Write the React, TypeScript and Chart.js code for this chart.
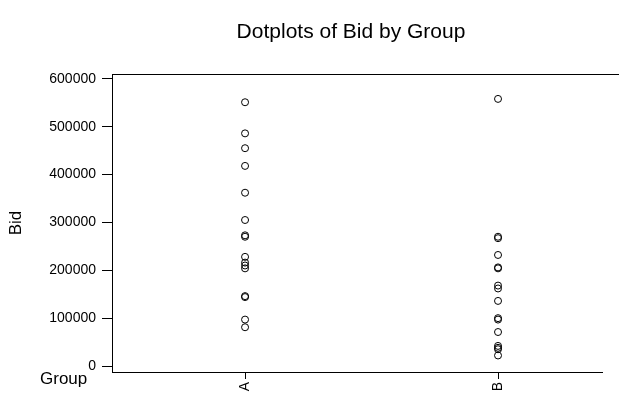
import { useEffect, useRef } from "react";
import { Chart, registerables } from "chart.js";

Chart.register(...registerables);

const categories = ["A", "B"];
const groupA = [551000, 486000, 455000, 418000, 362000, 305000, 273000, 270000, 228000, 216000, 210000, 204000, 146000, 144000, 97000, 81000];
const groupB = [558000, 270000, 267000, 232000, 206000, 204000, 168000, 162000, 136000, 100000, 97000, 71000, 42000, 38000, 35000, 22000];
const yTicks = [0, 100000, 200000, 300000, 400000, 500000, 600000];
const chartTitle = "Dotplots of Bid by Group";
const yTitle = "Bid";
const xTitle = "Group";

const FONT = "'Liberation Sans', Arial, sans-serif";

export default function App() {
  const ref = useRef<HTMLCanvasElement>(null);
  useEffect(() => {
    const textPlugin = {
      id: "texts",
      afterDraw(chart: any) {
        const ctx = chart.ctx;
        const area = chart.chartArea;
        ctx.save();
        ctx.strokeStyle = "#000";
        ctx.lineWidth = 1;
        ctx.beginPath();
        ctx.moveTo(area.left, Math.round(area.top) + 0.5);
        ctx.lineTo(619, Math.round(area.top) + 0.5);
        ctx.stroke();
        ctx.fillStyle = "#000";
        ctx.textBaseline = "middle";
        ctx.textAlign = "center";
        ctx.font = `21px ${FONT}`;
        ctx.fillText(chartTitle, 351, 32);
        ctx.textAlign = "left";
        ctx.font = `17px ${FONT}`;
        ctx.fillText(xTitle, 40, 379);
        ctx.restore();
      },
    };
    const chart = new Chart(ref.current!, {
      type: "scatter",
      data: {
        datasets: [
          { data: groupA.map((v) => ({ x: 1, y: v })) },
          { data: groupB.map((v) => ({ x: 2, y: v })) },
        ],
      },
      options: {
        animation: false,
        responsive: false,
        layout: { padding: { left: 0, right: 24, top: 74, bottom: 0 } },
        plugins: {
          legend: { display: false },
          tooltip: { enabled: false },
          title: { display: false },
        },
        elements: {
          point: {
            radius: 3.5,
            borderWidth: 1,
            borderColor: "#000",
            backgroundColor: "rgba(0,0,0,0)",
            pointStyle: "circle",
          },
        },
        scales: {
          x: {
            type: "linear",
            min: 0.474,
            max: 2.411,
            afterBuildTicks: (s: any) => {
              s.ticks = categories.map((_, i) => ({ value: i + 1 }));
            },
            afterFit: (s: any) => {
              s.height = 29;
            },
            ticks: {
              callback: (v: any) => categories[Math.round(v) - 1] ?? "",
              maxRotation: 90,
              minRotation: 90,
              color: "#000",
              padding: 3,
              font: { family: FONT, size: 14 },
            },
            grid: { display: true, drawOnChartArea: false, drawTicks: true, tickLength: 7, color: "#000" },
            border: { display: true, color: "#000", width: 1 },
          },
          y: {
            type: "linear",
            min: -12500,
            max: 610000,
            afterBuildTicks: (s: any) => {
              s.ticks = yTicks.map((v) => ({ value: v }));
            },
            afterFit: (s: any) => {
              s.width = 112;
            },
            ticks: {
              color: "#000",
              padding: 6,
              font: { family: FONT, size: 14 },
              callback: (v: any) => String(v),
            },
            grid: { display: true, drawOnChartArea: false, drawTicks: true, tickLength: 10, color: "#000" },
            border: { display: true, color: "#000", width: 1 },
            title: {
              display: true,
              text: yTitle,
              color: "#000",
              font: { family: FONT, size: 17 },
              padding: { top: 6, bottom: 4 },
            },
          },
        },
      },
      plugins: [textPlugin],
    });
    return () => chart.destroy();
  }, []);
  return (
    <div style={{ position: "absolute", left: 0, top: 0, width: 626, height: 401 }}>
      <canvas ref={ref} width={626} height={401} style={{ display: "block" }} />
    </div>
  );
}
